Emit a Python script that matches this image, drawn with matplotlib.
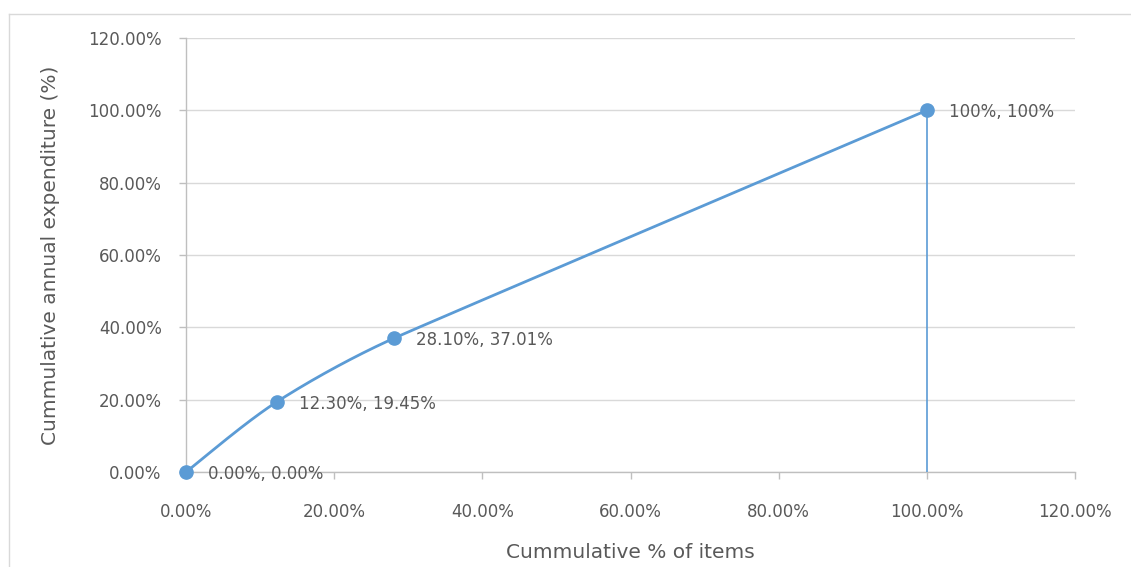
import numpy as np
import matplotlib
matplotlib.use("Agg")
import matplotlib.pyplot as plt
from matplotlib.ticker import FuncFormatter

# Cumulative share of items (x) vs cumulative share of annual expenditure (y), in %
cum_items = [0.0, 12.30, 28.10, 100.0]
cum_expenditure = [0.0, 19.45, 37.01, 100.0]
point_labels = ["0.00%, 0.00%", "12.30%, 19.45%", "28.10%, 37.01%", "100%, 100%"]

x_ticks = [0, 20, 40, 60, 80, 100, 120]
y_ticks = [0, 20, 40, 60, 80, 100, 120]

LINE_BLUE = "#5B9BD5"
TEXT_GREY = "#595959"
AXIS_GREY = "#BFBFBF"
GRID_GREY = "#D9D9D9"

plt.rcParams["font.family"] = ["DejaVu Sans"]


def smooth_curve(xs, ys, scale_x, scale_y, n=80):
    """Bezier smoothing through the points, with tangents limited by the neighbouring chords."""
    pts = np.column_stack([np.asarray(xs) * scale_x, np.asarray(ys) * scale_y])
    m = len(pts)
    tangents = []
    for i in range(m):
        p_prev = pts[i - 1] if i > 0 else pts[i]
        p_next = pts[i + 1] if i + 1 < m else pts[i]
        d = (p_next - p_prev) / 6.0
        lim = []
        if i > 0:
            lim.append(np.linalg.norm(pts[i] - pts[i - 1]) / 3.0)
        if i + 1 < m:
            lim.append(np.linalg.norm(pts[i + 1] - pts[i]) / 3.0)
        norm = np.linalg.norm(d)
        if norm > 0 and norm > min(lim):
            d = d * min(lim) / norm
        tangents.append(d)
    out = [pts[0]]
    t = np.linspace(0, 1, n)[1:, None]
    for i in range(m - 1):
        p1, p2 = pts[i], pts[i + 1]
        c1 = p1 + tangents[i]
        c2 = p2 - tangents[i + 1]
        seg = ((1 - t) ** 3) * p1 + 3 * ((1 - t) ** 2) * t * c1 + 3 * (1 - t) * t ** 2 * c2 + t ** 3 * p2
        out.extend(seg)
    out = np.array(out)
    return out[:, 0] / scale_x, out[:, 1] / scale_y


W, H, DPI = 1131, 567, 100
fig = plt.figure(figsize=(W / DPI, H / DPI), dpi=DPI)
fig.patch.set_facecolor("white")

# light chart-area frame
fig.add_artist(plt.Line2D([9 / W, 9 / W], [0, 1 - 14 / H], transform=fig.transFigure,
                          color="#D9D9D9", lw=1.0))
fig.add_artist(plt.Line2D([9 / W, 1], [1 - 14 / H, 1 - 14 / H], transform=fig.transFigure,
                          color="#D9D9D9", lw=1.0))

left, right, bottom, top = 186 / W, 1075 / W, 1 - 472 / H, 1 - 38 / H
ax = fig.add_axes([left, bottom, right - left, top - bottom])
ax.set_xlim(0, 120)
ax.set_ylim(0, 120)

ax.set_xticks(x_ticks)
ax.set_yticks(y_ticks)
pct = FuncFormatter(lambda v, _: f"{v:.2f}%")
ax.xaxis.set_major_formatter(pct)
ax.yaxis.set_major_formatter(pct)

ax.grid(axis="y", color=GRID_GREY, lw=1.0)
ax.set_axisbelow(True)
for side in ("top", "right"):
    ax.spines[side].set_visible(False)
for side in ("left", "bottom"):
    ax.spines[side].set_color(AXIS_GREY)
    ax.spines[side].set_linewidth(1.0)

ax.tick_params(axis="both", colors=AXIS_GREY, labelcolor=TEXT_GREY, labelsize=12,
               length=5, width=1.0)
ax.tick_params(axis="x", pad=17)
ax.tick_params(axis="y", pad=12.5)

# drop line from the last point to the x axis
ax.vlines(cum_items[-1], 0, cum_expenditure[-1], color=LINE_BLUE, lw=1.2, zorder=3)

sx = (right - left) * W / 120.0
sy = (top - bottom) * H / 120.0
cx, cy = smooth_curve(cum_items, cum_expenditure, sx, sy)
ax.plot(cx, cy, color=LINE_BLUE, lw=2.0, zorder=4, solid_capstyle="round", clip_on=False)
ax.plot(cum_items, cum_expenditure, "o", color=LINE_BLUE, ms=9.5, zorder=5, clip_on=False)

for x, y, lab in zip(cum_items, cum_expenditure, point_labels):
    ax.annotate(lab, (x, y), xytext=(16, -1.5), textcoords="offset points",
                ha="left", va="center", fontsize=12, color=TEXT_GREY, zorder=6,
                annotation_clip=False)

ax.set_xlabel("Cummulative % of items", fontsize=14.5, color=TEXT_GREY, labelpad=16.5)
ax.set_ylabel("Cummulative annual expenditure (%)", fontsize=14.5, color=TEXT_GREY, labelpad=20.5)

fig.savefig("out.png", dpi=DPI)
